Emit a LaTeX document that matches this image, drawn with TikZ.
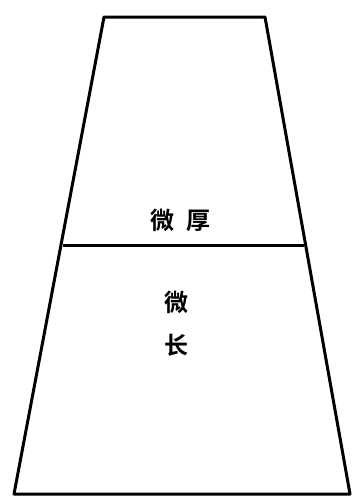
\documentclass[tikz,border=0pt]{standalone}
\usepackage{fontspec}
\newfontfamily\cjk{Noto Sans CJK SC Bold}
\usetikzlibrary{positioning}

\begin{document}
\begin{tikzpicture}[x=1pt, y=-1pt,
    edge/.style={line width=3pt, line join=round},
    label/.style={font=\cjk\fontsize{24}{28}\selectfont, inner sep=0pt}
  ]
  \useasboundingbox (0,0) rectangle (354,498);
  % trapezoid outline
  \coordinate (tl) at (104,17);
  \coordinate (tr) at (265,17);
  \coordinate (br) at (350,494);
  \coordinate (bl) at (14,494);
  \draw[edge] (tl) -- (tr) -- (br) -- (bl) -- cycle;
  % dividing line
  \coordinate (ml) at (63,245);
  \coordinate (mr) at (304,245);
  \draw[edge] (ml) -- (mr);
  % labels
  \node[label] (upper) at (180,220) {微\hspace{12pt}厚};
  \node[label] (lowa) at (176,302) {微};
  \node[label, below=20pt of lowa] (lowb) {长};
\end{tikzpicture}
\end{document}
